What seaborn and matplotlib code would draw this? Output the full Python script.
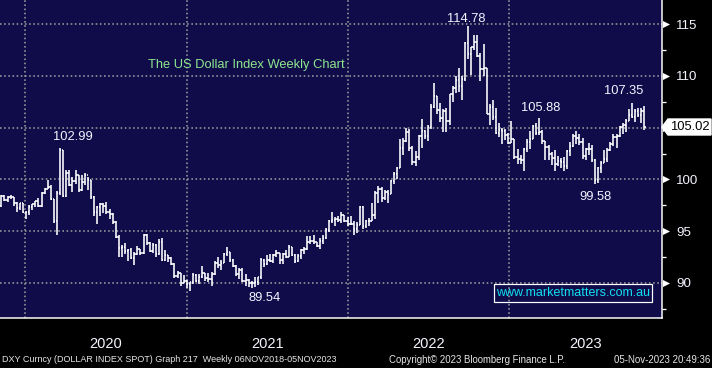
import numpy as np
import pandas as pd
import matplotlib
matplotlib.use("Agg")
import matplotlib.pyplot as plt
import matplotlib.dates as mdates
from matplotlib.patches import Polygon, Rectangle
from matplotlib.transforms import blended_transform_factory
import seaborn as sns

# ---------------- data (weekly DXY bars, week ending Friday) ----------------
first_week = "2019-11-08"
first_open = 97.40

closes = [
    98.35, 98.00, 98.30, 98.27, 97.70, 97.20, 97.70, 96.90,
    96.84, 97.35, 97.60, 97.90, 97.40,
    98.70, 99.10, 99.30, 98.10,
    95.95, 98.70, 102.80, 98.40,
    100.60, 99.50, 99.80, 100.40,
    99.00, 99.75, 100.40, 99.90, 98.30,
    96.90, 97.30, 97.60, 97.40,
    96.90, 96.65, 95.90, 94.40, 93.35,
    93.45, 93.10, 93.20, 92.40,
    92.80, 93.30, 92.90, 94.60,
    93.90, 93.10, 93.70, 92.80, 94.00,
    92.20, 92.75, 92.40, 91.80,
    90.70, 90.97, 90.00, 90.20,
    89.90, 90.10, 90.80, 90.20, 90.60,
    91.00, 90.50, 90.40, 90.90,
    91.90, 91.70, 91.90, 92.80,
    93.00, 92.20, 91.60, 90.90, 91.30,
    90.20, 90.30, 90.00, 90.00,
    90.10, 90.60, 92.20, 91.80,
    92.20, 92.10, 92.70, 92.90, 92.20,
    92.80, 92.50, 93.50, 92.70,
    92.10, 92.60, 93.20, 93.30,
    94.00, 94.10, 94.00, 93.60, 94.10,
    94.30, 95.10, 96.00, 96.10,
    96.20, 96.10, 96.60, 96.00, 95.70,
    95.70, 95.20, 95.60, 97.30,
    95.50, 96.00, 96.00, 96.60,
    98.70, 99.10, 98.20, 98.80,
    98.60, 99.80, 100.50, 101.10, 103.00,
    103.70, 104.60, 103.00, 101.70,
    102.20, 104.20, 104.70, 104.20,
    105.10, 107.00, 108.10, 106.70, 105.90,
    106.60, 105.60, 108.20, 108.80,
    109.60, 109.00, 109.70, 113.20, 112.10,
    112.80, 113.30, 111.90, 110.70,
    110.80, 106.30, 107.00, 106.00,
    104.50, 104.80, 104.70, 104.30, 103.50,
    103.90, 102.20, 102.00, 101.90,
    102.90, 103.60, 103.90, 105.20,
    104.50, 104.60, 103.70, 103.10, 102.50,
    102.10, 101.50, 101.80, 101.70,
    101.30, 102.70, 103.20, 104.20,
    104.00, 103.60, 102.30, 102.90, 102.90,
    101.90, 99.90, 101.10, 101.60,
    102.00, 102.80, 103.40, 104.10,
    104.20, 105.10, 105.30, 105.60, 106.20,
    106.00, 106.60, 106.20, 106.60,
    105.02,
]

highs = [
    98.45, 98.50, 98.40, 98.50, 98.30, 97.80, 97.75, 97.70,
    96.90, 97.50, 97.60, 97.95, 98.20,
    98.75, 99.20, 99.90, 99.50,
    98.10, 98.90, 102.99, 102.80,
    100.90, 100.90, 100.20, 100.90,
    100.40, 100.40, 100.60, 100.20, 99.90,
    98.40, 97.40, 97.70, 97.75,
    97.80, 97.10, 96.80, 96.00, 94.60,
    93.70, 93.90, 93.30, 93.40,
    93.00, 93.60, 93.30, 94.75,
    94.70, 94.00, 93.90, 93.80, 94.20,
    94.30, 93.20, 92.75, 92.50,
    91.90, 91.20, 91.00, 90.80,
    90.30, 90.10, 90.95, 90.90, 90.90,
    91.60, 91.00, 91.00, 91.05,
    92.10, 92.50, 92.20, 92.90,
    93.44, 93.00, 92.30, 91.70, 91.40,
    91.40, 90.90, 90.40, 90.20,
    90.60, 90.60, 92.40, 92.30,
    92.70, 92.80, 92.80, 93.20, 92.90,
    92.90, 93.20, 93.70, 93.50,
    92.80, 92.80, 93.30, 93.50,
    94.50, 94.50, 94.60, 94.00, 94.30,
    94.60, 95.30, 96.10, 96.90,
    96.40, 96.50, 96.90, 96.60, 96.40,
    96.50, 96.00, 95.90, 97.40,
    97.40, 96.10, 96.30, 97.75,
    98.90, 99.40, 99.30, 99.00,
    99.00, 99.90, 100.70, 101.20, 103.90,
    104.00, 105.00, 104.90, 103.20,
    102.70, 104.30, 105.80, 104.80,
    105.30, 107.30, 109.30, 108.10, 107.40,
    106.80, 106.90, 108.20, 109.00,
    110.00, 110.80, 110.00, 113.30, 114.78,
    112.80, 113.90, 113.90, 112.20,
    113.10, 110.80, 107.30, 107.70,
    106.90, 105.40, 105.00, 104.90, 104.50,
    105.60, 103.90, 102.90, 102.40,
    103.00, 103.90, 104.70, 105.30,
    105.40, 105.88, 104.80, 103.70, 103.30,
    102.60, 102.80, 102.30, 102.10,
    102.20, 102.80, 103.60, 104.40,
    104.70, 104.40, 104.00, 103.00, 103.50,
    103.30, 102.00, 101.20, 101.80,
    102.80, 103.00, 103.60, 104.40,
    104.40, 105.20, 105.40, 105.80, 106.80,
    107.35, 106.80, 106.90, 106.90,
    107.10,
]

lows = [
    97.30, 97.90, 97.80, 98.10, 97.40, 96.90, 97.00, 96.80,
    96.20, 96.60, 97.00, 97.30, 97.30,
    97.30, 98.60, 99.10, 98.00,
    95.80, 94.65, 98.50, 98.30,
    98.30, 99.40, 98.80, 99.60,
    98.80, 98.90, 99.50, 99.00, 98.10,
    96.50, 95.70, 96.50, 96.80,
    96.70, 96.20, 95.70, 94.30, 92.55,
    92.50, 92.80, 92.10, 92.30,
    91.75, 92.70, 92.70, 92.80,
    93.70, 93.00, 92.90, 92.50, 92.70,
    92.10, 92.10, 92.00, 91.75,
    90.50, 90.50, 89.70, 90.00,
    89.50, 89.20, 89.90, 90.10, 89.90,
    90.50, 90.20, 90.10, 89.70,
    90.80, 91.40, 91.30, 91.90,
    92.60, 92.00, 91.50, 90.70, 90.40,
    90.10, 89.70, 89.65, 89.54,
    89.60, 89.80, 90.40, 91.50,
    91.70, 92.00, 91.90, 92.50, 91.80,
    91.80, 92.40, 92.50, 92.60,
    91.95, 92.00, 92.30, 92.80,
    93.20, 93.80, 93.80, 93.50, 93.30,
    93.80, 94.20, 94.90, 95.80,
    95.50, 95.85, 95.80, 95.90, 95.50,
    95.60, 94.60, 94.80, 95.60,
    95.20, 95.30, 95.50, 96.00,
    96.20, 97.70, 97.80, 98.00,
    97.70, 98.60, 99.60, 100.00, 101.10,
    102.40, 103.60, 102.70, 101.40,
    101.30, 101.90, 103.00, 103.90,
    103.70, 104.90, 106.90, 106.30, 105.50,
    104.60, 104.60, 105.30, 107.50,
    108.30, 108.40, 107.70, 109.50, 111.60,
    110.10, 112.50, 111.80, 109.50,
    110.00, 106.30, 105.30, 105.70,
    104.40, 104.10, 103.40, 103.80, 103.40,
    103.50, 101.99, 101.50, 101.50,
    100.80, 102.60, 102.90, 103.90,
    104.30, 104.30, 103.40, 101.90, 101.90,
    101.40, 100.80, 101.30, 101.10,
    100.80, 101.00, 102.30, 103.10,
    103.40, 103.30, 102.00, 101.90, 102.40,
    101.70, 99.58, 99.70, 100.60,
    101.60, 101.70, 102.70, 103.20,
    103.00, 104.10, 104.40, 104.60, 105.60,
    105.90, 105.50, 106.00, 105.40,
    104.80,
]

years = [2020, 2021, 2022, 2023]
ytick_values = [90, 95, 100, 105, 110, 115]
last_price = 105.02
# callouts: (week ending, value, label)
callouts = [
    ("2020-03-20", 102.99, "102.99"),
    ("2022-09-30", 114.78, "114.78"),
    ("2023-03-10", 105.88, "105.88"),
    ("2023-10-06", 107.35, "107.35"),
    ("2023-07-14", 99.58, "99.58"),
    ("2021-05-28", 89.54, "89.54"),
]
callout_offsets = {"102.99": (13, 11), "114.78": (-2, 7), "105.88": (1, 10),
                   "107.35": (-8, 12), "99.58": (1, -13), "89.54": (13, -10)}

dates = pd.date_range(first_week, periods=len(closes), freq="W-FRI")
df = pd.DataFrame({"date": dates, "close": closes, "high": highs, "low": lows})
df["open"] = [first_open] + closes[:-1]

# ---------------- style ----------------
sns.set_theme(style="dark")
plt.rcParams["font.family"] = ["Liberation Sans", "DejaVu Sans"]

W, H = 712, 368
NAVY = "#100c4a"
GRID = "#9a9a9a"
WHITE = "#f4f4ff"

fig = plt.figure(figsize=(W / 100, H / 100), dpi=100, facecolor="black")
ax = fig.add_axes([0, 1 - 318 / H, 662 / W, 318 / H])
ax.set_facecolor(NAVY)

px = 72 / 100  # points per pixel
tick_half = pd.Timedelta(days=3)

ax.vlines(df["date"], df["low"], df["high"], color="white", lw=1.6 * px, zorder=3)
ax.hlines(df["open"], df["date"] - tick_half, df["date"], color="white", lw=1.6 * px, zorder=3)
ax.hlines(df["close"], df["date"], df["date"] + tick_half, color="white", lw=1.6 * px, zorder=3)

ax.set_xlim(pd.Timestamp("2019-11-05"), pd.Timestamp("2023-12-13"))
ax.set_ylim(86.62, 117.32)

# grid
ax.set_xticks([pd.Timestamp(f"{y}-01-01") for y in years])
ax.set_xticks([pd.Timestamp(f"{y}-{m:02d}-01") for y in [2019, 2020, 2021, 2022, 2023]
               for m in (4, 7, 10)
               if pd.Timestamp("2019-11-05") < pd.Timestamp(f"{y}-{m:02d}-01") < pd.Timestamp("2023-12-13")],
              minor=True)
ax.set_yticks(ytick_values)
ax.set_yticks([v + 2.5 for v in [85, 90, 95, 100, 105, 110, 115] if 86.62 < v + 2.5 < 117.32], minor=True)
ax.grid(True, which="major", color=GRID, linestyle=(0, (1, 1.6)), lw=1.6 * px, zorder=1)
ax.set_axisbelow(True)

ax.yaxis.tick_right()
ax.set_yticklabels([str(v) if v != 105 else "" for v in ytick_values])
ax.tick_params(axis="y", which="major", length=0, pad=10, labelcolor=WHITE, labelsize=9.6)
ax.tick_params(axis="y", which="minor", length=3.5 * px, width=1.3 * px, color="white", direction="out")
ax.set_xticklabels([])
ax.tick_params(axis="x", which="major", length=33 * px, width=1.5 * px, color=GRID, direction="out")
ax.tick_params(axis="x", which="minor", length=3.5 * px, width=1.3 * px, color="white", direction="out")

for s in ["top", "left"]:
    ax.spines[s].set_visible(False)
for s in ["right", "bottom"]:
    ax.spines[s].set_color("white")
    ax.spines[s].set_linewidth(1.5 * px)

# right-axis arrow ticks
tr = blended_transform_factory(ax.transAxes, ax.transData)
ax.scatter([1 + 4 / 662] * len(ytick_values), ytick_values, marker=">", s=26, color="white",
           transform=tr, clip_on=False, zorder=5, linewidths=0)

# year labels centred in visible span
xl0, xl1 = ax.get_xlim()
trx = blended_transform_factory(ax.transData, ax.transAxes)
for y in years:
    a = max(mdates.date2num(pd.Timestamp(f"{y}-01-01")), xl0)
    b = min(mdates.date2num(pd.Timestamp(f"{y + 1}-01-01")), xl1)
    ax.text((a + b) / 2, -26.5 / 318, str(y), transform=trx, ha="center", va="center",
            color=WHITE, fontsize=10.5, clip_on=False)

# callouts
for d, v, lab in callouts:
    dx, dy = callout_offsets[lab]
    ax.annotate(lab, xy=(pd.Timestamp(d), v), xytext=(dx, dy), textcoords="offset pixels",
                ha="center", va="center", color=WHITE, fontsize=9.3, zorder=6)

# title
fig.text(246.5 / W, 1 - 65 / H, "The US Dollar Index Weekly Chart", color="#8ee68e",
         fontsize=9.3, ha="center", va="center")

# website box
fig.patches.append(Rectangle((494 / W, 1 - 302 / H), 158 / W, 18 / H, transform=fig.transFigure,
                             facecolor="none", edgecolor="white", lw=1.2 * px, zorder=5))
fig.text(573 / W, 1 - 293 / H, "www.marketmatters.com.au", color="#10e0f0", fontsize=9.0,
         ha="center", va="center", zorder=6)

# last price tag
poly = [(662, 127), (668, 119), (711, 119), (711, 135), (668, 135)]
fig.patches.append(Polygon([(x / W, 1 - y / H) for x, y in poly], closed=True, transform=fig.transFigure,
                           facecolor="white", edgecolor="white", zorder=5))
fig.text(689.5 / W, 1 - 127 / H, f"{last_price:.2f}", color="black", fontsize=9.4,
         ha="center", va="center", zorder=6)

# footer
fig.text(2 / W, 1 - 360 / H, "DXY Curncy (DOLLAR INDEX SPOT) Graph 217  Weekly 06NOV2018-05NOV2023",
         color="#e6e6e6", fontsize=6.5, ha="left", va="center")
fig.text(477 / W, 1 - 360 / H, "Copyright\u00a9 2023 Bloomberg Finance L.P.", color="#e6e6e6",
         fontsize=6.9, ha="center", va="center")
fig.text(710 / W, 1 - 360 / H, "05-Nov-2023 20:49:36", color="#e6e6e6", fontsize=7.0,
         ha="right", va="center")

fig.savefig("out.png", dpi=100, facecolor="black")
